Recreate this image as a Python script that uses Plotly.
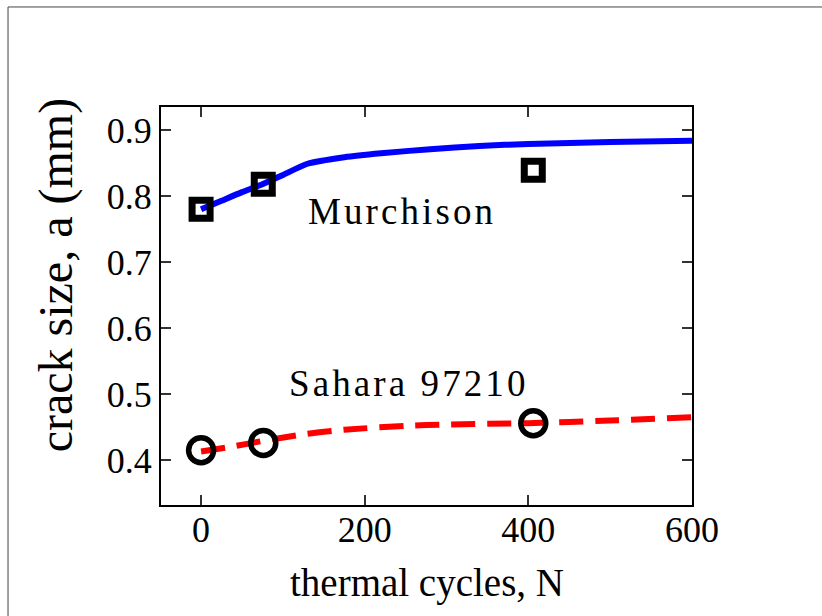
import plotly.graph_objects as go

# Model curves
murch_curve_x = [0, 25, 50, 75, 100, 130, 175, 220, 280, 340, 400, 500, 600]
murch_curve_y = [0.780, 0.793, 0.806, 0.818, 0.832, 0.849, 0.859, 0.865, 0.871, 0.876, 0.879, 0.882, 0.884]
sahara_curve_x = [0, 40, 75, 130, 175, 250, 300, 400, 500, 600]
sahara_curve_y = [0.413, 0.421, 0.429, 0.440, 0.446, 0.452, 0.454, 0.456, 0.460, 0.465]

# Measurements
murch_x = [0, 76, 406]
murch_y = [0.780, 0.818, 0.839]
sahara_x = [0, 76, 406]
sahara_y = [0.415, 0.426, 0.456]

x_ticks = [0, 200, 400, 600]
y_ticks = [0.4, 0.5, 0.6, 0.7, 0.8, 0.9]

SERIF = "Liberation Serif, Times New Roman, serif"

fig = go.Figure()
fig.add_trace(go.Scatter(x=murch_curve_x, y=murch_curve_y, mode="lines",
                         line=dict(color="#0000ff", width=6, shape="spline", smoothing=0.6),
                         showlegend=False, hoverinfo="skip"))
fig.add_trace(go.Scatter(x=sahara_curve_x, y=sahara_curve_y, mode="lines",
                         line=dict(color="#ff0000", width=6, dash="24px,12px", shape="spline", smoothing=0.6),
                         showlegend=False, hoverinfo="skip"))
fig.add_trace(go.Scatter(x=murch_x, y=murch_y, mode="markers",
                         marker=dict(symbol="square-open", size=18, color="black",
                                     line=dict(width=7, color="black")),
                         showlegend=False))
fig.add_trace(go.Scatter(x=sahara_x, y=sahara_y, mode="markers",
                         marker=dict(symbol="circle-open", size=25, color="black",
                                     line=dict(width=5.5, color="black")),
                         showlegend=False))

HAIR = "\u200a"

def spaced(s):
    return HAIR.join(s)

fig.add_annotation(x=244, y=0.777, xref="x", yref="y", text=spaced("Murchison"),
                   showarrow=False, font=dict(family=SERIF, size=37, color="black"),
                   xanchor="center", yanchor="middle")
fig.add_annotation(x=252, y=0.516, xref="x", yref="y", text=spaced("Sahara 97210"),
                   showarrow=False, font=dict(family=SERIF, size=37, color="black"),
                   xanchor="center", yanchor="middle")

# Axis titles
fig.add_annotation(x=0.5, y=-0.195, xref="paper", yref="paper", text="thermal cycles, N",
                   showarrow=False, font=dict(family=SERIF, size=39, color="black"),
                   xanchor="center", yanchor="middle")
fig.add_annotation(x=-0.197, y=0.578, xref="paper", yref="paper", text="crack size, a (mm)",
                   textangle=-90, showarrow=False, font=dict(family=SERIF, size=48, color="black"),
                   xanchor="center", yanchor="middle")

# Outer frame
fig.add_shape(type="rect", xref="paper", yref="paper", x0=-0.2881, y0=-1, x1=2, y1=1.2513,
              line=dict(color="#444444", width=1), fillcolor="rgba(0,0,0,0)")

axis_common = dict(showline=True, linewidth=2, linecolor="black", mirror="ticks",
                   ticks="inside", ticklen=10, tickwidth=1.5, tickcolor="#333333",
                   showgrid=False, zeroline=False,
                   tickfont=dict(family=SERIF, size=36, color="black"))

fig.update_xaxes(range=[-49, 600], tickvals=x_ticks, ticktext=[str(v) for v in x_ticks],
                 ticklabelstandoff=-8, **axis_common)
fig.update_yaxes(range=[0.332, 0.935], tickvals=y_ticks, ticktext=[f"{v:.1f}" for v in y_ticks],
                 **axis_common)

fig.update_layout(width=822, height=616, margin=dict(l=161, r=130, t=107, b=111),
                  plot_bgcolor="white", paper_bgcolor="white")

fig.write_html("out.html")
